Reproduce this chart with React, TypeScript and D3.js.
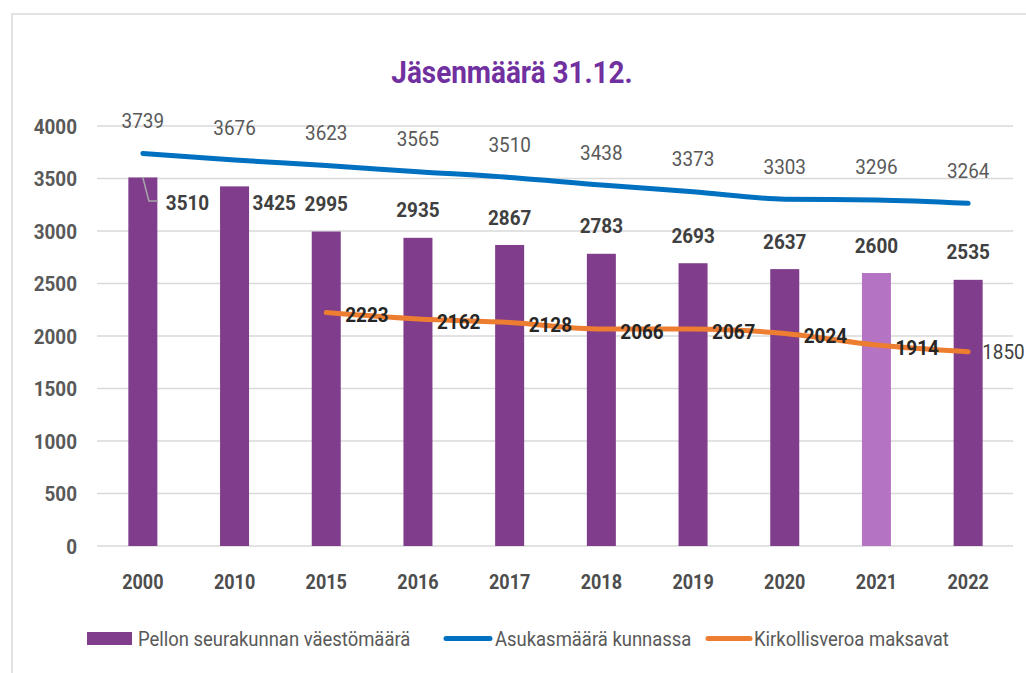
import React from "react";
import * as d3 from "d3";

const categories = ["2000", "2010", "2015", "2016", "2017", "2018", "2019", "2020", "2021", "2022"];
const members = [3510, 3425, 2995, 2935, 2867, 2783, 2693, 2637, 2600, 2535];
const residents = [3739, 3676, 3623, 3565, 3510, 3438, 3373, 3303, 3296, 3264];
const taxpayers: (number | null)[] = [null, null, 2223, 2162, 2128, 2066, 2067, 2024, 1914, 1850];
const yTicks = [0, 500, 1000, 1500, 2000, 2500, 3000, 3500, 4000];
const seriesNames = ["Pellon seurakunnan väestömäärä", "Asukasmäärä kunnassa", "Kirkollisveroa maksavat"];
const title = "Jäsenmäärä 31.12.";

const W = 1026;
const H = 673;
const FONT = "Roboto, 'Noto Sans', sans-serif";
const PURPLE = "#7F3D8C";
const PURPLE_LIGHT = "#B574C3";
const BLUE = "#0070C0";
const ORANGE = "#ED7D31";
const SX = 0.9;

type TProps = {
  x: number;
  y: number;
  anchor?: "start" | "middle" | "end";
  size: number;
  weight?: number;
  fill: string;
  children: React.ReactNode;
};

function T({ x, y, anchor = "start", size, weight = 400, fill, children }: TProps) {
  return (
    <text
      transform={`translate(${x},${y}) scale(${SX},1)`}
      dy="0.36em"
      textAnchor={anchor}
      fontSize={size}
      fontWeight={weight}
      fill={fill}
    >
      {children}
    </text>
  );
}

export default function App() {
  const x = d3.scalePoint<string>().domain(categories).range([97, 1014]).padding(0.5);
  const y = d3.scaleLinear().domain([0, 4000]).range([546, 126]);
  const barW = 29;

  const blueLine = d3
    .line<number>()
    .x((_, i) => x(categories[i]) as number)
    .y((d) => y(d))
    .curve(d3.curveMonotoneX)(residents) as string;

  const orangePts = taxpayers
    .map((v, i) => ({ v, c: categories[i] }))
    .filter((d) => d.v !== null) as { v: number; c: string }[];
  const orangeLine = d3
    .line<{ v: number; c: string }>()
    .x((d) => x(d.c) as number)
    .y((d) => y(d.v))
    .curve(d3.curveMonotoneX)(orangePts) as string;

  return (
    <svg
      width={W}
      height={H}
      style={{ position: "absolute", left: 0, top: 0, background: "#fff" }}
      fontFamily={FONT}
    >
      <rect x={0} y={0} width={W} height={H} fill="#fff" />
      <rect x={12} y={14} width={1200} height={900} fill="none" stroke="#d9d9d9" strokeWidth={1.5} />

      <T x={512} y={72} anchor="middle" size={31} weight={700} fill="#7030A0">
        {title}
      </T>

      {/* gridlines */}
      {yTicks.map((t) => (
        <line key={"g" + t} x1={97} x2={1013} y1={y(t)} y2={y(t)} stroke="#d9d9d9" strokeWidth={1.5} />
      ))}
      {yTicks.map((t) => (
        <T key={"t" + t} x={77} y={y(t)} anchor="end" size={21} weight={700} fill="#595959">
          {t}
        </T>
      ))}

      {/* bars */}
      {members.map((v, i) => (
        <rect
          key={"b" + i}
          x={(x(categories[i]) as number) - barW / 2}
          y={y(v)}
          width={barW}
          height={y(0) - y(v)}
          fill={categories[i] === "2021" ? PURPLE_LIGHT : PURPLE}
        />
      ))}

      {/* x labels */}
      {categories.map((c) => (
        <T key={"x" + c} x={x(c) as number} y={582} anchor="middle" size={20} weight={700} fill="#4d4d4d">
          {c}
        </T>
      ))}

      {/* lines */}
      <path d={blueLine} fill="none" stroke={BLUE} strokeWidth={5} strokeLinecap="round" strokeLinejoin="round" />
      <path d={orangeLine} fill="none" stroke={ORANGE} strokeWidth={5} strokeLinecap="round" strokeLinejoin="round" />

      {/* leader line for first bar label */}
      <polyline
        points={`${x("2000")},${y(members[0])} ${(x("2000") as number) + 6},${y(3000) - 30} ${(x("2000") as number) + 15},${y(3000) - 30}`}
        fill="none"
        stroke="#a6a6a6"
        strokeWidth={1.5}
      />

      {/* bar labels */}
      {members.map((v, i) => {
        const cx = x(categories[i]) as number;
        if (i < 2) {
          const lx = i === 0 ? cx + 23 : cx + 18;
          return (
            <T key={"bl" + i} x={lx} y={y(3000) - 29} size={21} weight={700} fill="#404040">
              {v}
            </T>
          );
        }
        return (
          <T key={"bl" + i} x={cx} y={y(v) - 28} anchor="middle" size={21} weight={700} fill="#404040">
            {v}
          </T>
        );
      })}

      {/* blue labels */}
      {residents.map((v, i) => (
        <T key={"rl" + i} x={x(categories[i]) as number} y={y(v) - 33} anchor="middle" size={21} fill="#595959">
          {v}
        </T>
      ))}

      {/* orange labels */}
      {orangePts.map((d, i) => {
        const last = i === orangePts.length - 1;
        return (
          <T
            key={"ol" + i}
            x={(x(d.c) as number) + (last ? 14 : 19)}
            y={y(d.v) + (last ? 0 : 2)}
            size={21}
            weight={last ? 400 : 700}
            fill={last ? "#404040" : "#262626"}
          >
            {d.v}
          </T>
        );
      })}

      {/* legend */}
      <rect x={87} y={632} width={45} height={13} fill={PURPLE} />
      <T x={138} y={638.5} size={20.5} fill="#595959">
        {seriesNames[0]}
      </T>
      <line x1={446} x2={490} y1={638.5} y2={638.5} stroke={BLUE} strokeWidth={5} strokeLinecap="round" />
      <T x={495} y={638.5} size={20.5} fill="#595959">
        {seriesNames[1]}
      </T>
      <line x1={708} x2={750} y1={638.5} y2={638.5} stroke={ORANGE} strokeWidth={5} strokeLinecap="round" />
      <T x={754} y={638.5} size={20.5} fill="#595959">
        {seriesNames[2]}
      </T>
    </svg>
  );
}
